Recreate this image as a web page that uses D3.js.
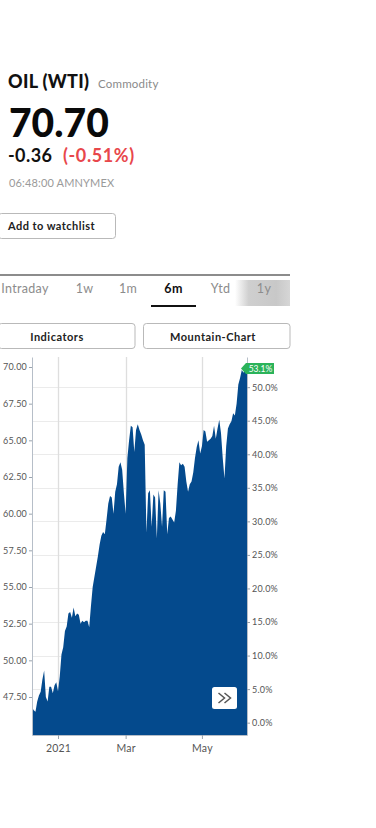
<!DOCTYPE html>
<html><head><meta charset="utf-8">
<script src="https://cdn.jsdelivr.net/npm/d3@7/dist/d3.min.js"></script>
<style>
body{margin:0;background:#fff}
svg{display:block}
text{font-family:Lato,"Open Sans",sans-serif}
</style>
</head><body><div id="c"></div>
<script>
// ---- data ----
const prices = [46.8,46.6,46.5,47.2,47.6,47.85,48.7,49.3,47.5,47.2,
  48.2,48.2,47.75,48.3,48.5,47.9,48.9,50.4,50.9,52.0,
  52.3,53.2,53.3,52.9,53.6,53.0,53.2,53.1,52.5,52.7,
  52.6,52.7,52.7,52.25,53.7,55.0,55.7,56.4,57.1,57.9,
  58.5,58.75,58.6,59.6,60.7,61.2,61.1,60.0,61.5,62.0,
  63.2,63.5,63.0,61.4,60.0,63.8,65.0,66.0,65.9,64.2,
  65.7,66.1,65.7,65.4,65.0,64.7,58.7,61.4,61.6,59.1,
  61.3,61.1,58.3,61.6,60.7,59.1,61.6,61.5,58.6,59.7,
  59.8,59.6,59.4,60.2,62.0,63.5,63.3,63.4,63.2,62.2,
  61.5,62.0,62.2,62.8,63.8,64.55,65.0,64.1,64.6,65.7,
  65.6,64.9,65.0,65.1,65.3,66.0,65.1,65.8,66.4,65.5,
  63.8,62.4,64.6,65.8,66.1,66.3,66.85,66.7,67.5,68.8,
  69.25,69.8,69.6,70.0,69.9];
const xTickIdx = [15, 54, 98];
const xTickLabels = ["2021", "Mar", "May"];
const priceTicks = [47.5, 50, 52.5, 55, 57.5, 60, 62.5, 65, 67.5, 70];
const pctTicks = [0, 5, 10, 15, 20, 25, 30, 35, 40, 45, 50];
const basePrice = 45.75;
const lastPctLabel = "53.1%";
const tabLabels = ["Intraday", "1w", "1m", "6m", "Ytd", "1y"];
const activeTab = "6m";
const title = "OIL (WTI)", subtitle = "Commodity";
const lastPrice = "70.70", change = "-0.36", changePct = "(-0.51%)";
const timeLine = "06:48:00 AMNYMEX";
const buttonLabels = ["Indicators", "Mountain-Chart"];

// ---- layout ----
const W = 376, H = 828;
const plot = {left: 32, right: 247, top: 357, bottom: 735};
const svg = d3.select("#c").append("svg").attr("width", W).attr("height", H);
svg.append("rect").attr("width", W).attr("height", H).attr("fill", "#fff");

// header
svg.append("text").attr("x", 8).attr("y", 88).attr("font-size", 18).attr("font-weight", 900).attr("letter-spacing", 0.3).attr("fill", "#111").text(title);
svg.append("text").attr("x", 98).attr("y", 88).attr("font-size", 11.5).attr("letter-spacing", 0.2).attr("fill", "#8a8a8a").text(subtitle);
svg.append("text").attr("x", 9).attr("y", 137).attr("font-size", 39).attr("font-weight", 900).attr("fill", "#0a0a0a").text(lastPrice);
svg.append("text").attr("x", 8).attr("y", 162).attr("font-size", 18).attr("font-weight", 700).attr("letter-spacing", 0.4).attr("fill", "#111").text(change);
svg.append("text").attr("x", 63).attr("y", 162).attr("font-size", 18).attr("font-weight", 700).attr("letter-spacing", 0.6).attr("fill", "#e8474b").text(changePct);
svg.append("text").attr("x", 9).attr("y", 187).attr("font-size", 11).attr("letter-spacing", 0.15).attr("fill", "#9a9a9a").text(timeLine);

// watchlist button
svg.append("rect").attr("x", -1.5).attr("y", 213.5).attr("width", 117).attr("height", 25).attr("rx", 3)
  .attr("fill", "#fff").attr("stroke", "#b9b9b9");
svg.append("text").attr("x", 8).attr("y", 230).attr("font-size", 11).attr("font-weight", 700).attr("letter-spacing", 0.45).attr("fill", "#222").text("Add to watchlist");

// tabs
const defs = svg.append("defs");
const g1 = defs.append("linearGradient").attr("id", "fade").attr("x1", 0).attr("x2", 1);
g1.append("stop").attr("offset", "0%").attr("stop-color", "#fff");
g1.append("stop").attr("offset", "25%").attr("stop-color", "#cfcfcf");
g1.append("stop").attr("offset", "75%").attr("stop-color", "#c8c8c8");
g1.append("stop").attr("offset", "100%").attr("stop-color", "#d6d6d6");
svg.append("rect").attr("x", 235).attr("y", 280).attr("width", 55).attr("height", 26).attr("fill", "url(#fade)");
svg.append("line").attr("x1", 0).attr("x2", 290).attr("y1", 275).attr("y2", 275).attr("stroke", "#666").attr("stroke-width", 1.5);
const tabCenters = [25, 84.5, 128, 173.5, 220.5, 264];
tabLabels.forEach((t, i) => {
  svg.append("text").attr("x", tabCenters[i]).attr("y", 293).attr("text-anchor", "middle")
    .attr("font-size", 12.5).attr("letter-spacing", 0.3).attr("font-weight", t === activeTab ? 700 : 400)
    .attr("fill", t === activeTab ? "#111" : "#8c8c8c").text(t);
});
svg.append("line").attr("x1", 151).attr("x2", 196).attr("y1", 306).attr("y2", 306).attr("stroke", "#111").attr("stroke-width", 2);

// buttons
const btns = [{x: -1.5, w: 136.5}, {x: 143.5, w: 146.5}];
buttonLabels.forEach((b, i) => {
  svg.append("rect").attr("x", btns[i].x).attr("y", 323.5).attr("width", btns[i].w).attr("height", 25).attr("rx", 3)
    .attr("fill", "#fff").attr("stroke", "#b9b9b9");
  svg.append("text").attr("x", i === 0 ? 57 : 213).attr("y", 340.5).attr("text-anchor", "middle")
    .attr("font-size", 11).attr("font-weight", 700).attr("letter-spacing", 0.5).attr("fill", "#222").text(b);
});

// scales
const x = d3.scaleLinear().domain([0, prices.length - 1]).range([plot.left, plot.right]);
const pxPerUnit = (697 - 367) / (70 - 47.5);
const yPrice = d3.scaleLinear()
  .domain([70 - (plot.bottom - 367) / pxPerUnit, 70 + (367 - plot.top) / pxPerUnit])
  .range([plot.bottom, plot.top]);
const yPct = d3.scaleLinear()
  .domain(yPrice.domain().map(p => (p / basePrice - 1) * 100))
  .range([plot.bottom, plot.top]);

// gridlines
const grid = svg.append("g");
grid.selectAll("line.h").data(pctTicks).join("line")
  .attr("x1", plot.left).attr("x2", plot.right)
  .attr("y1", d => Math.round(yPct(d)) + 0.5).attr("y2", d => Math.round(yPct(d)) + 0.5)
  .attr("stroke", "#ebebeb");
grid.selectAll("line.v").data(xTickIdx).join("line")
  .attr("x1", d => Math.round(x(d)) + 0.5).attr("x2", d => Math.round(x(d)) + 0.5)
  .attr("y1", plot.top).attr("y2", plot.bottom)
  .attr("stroke", "#dedede").attr("stroke-width", 1.3);

// area
const area = d3.area().x((d, i) => x(i)).y0(plot.bottom).y1(d => yPrice(d));
svg.append("path").datum(prices).attr("d", area).attr("fill", "#044a8d");

// axes
function styleAxis(g, size) {
  g.selectAll("text").attr("font-size", size).attr("fill", "#555").attr("font-family", "Lato, sans-serif").attr("letter-spacing", 0.2);
  g.selectAll("line").attr("stroke", "#9aa3ad");
  g.select(".domain").attr("stroke", "#b6bec8");
}
svg.append("g").attr("transform", `translate(${plot.left},0)`)
  .call(d3.axisLeft(yPrice).tickValues(priceTicks).tickFormat(d3.format(".2f")).tickSize(3).tickPadding(2).tickSizeOuter(0))
  .call(g => styleAxis(g, 9));
svg.append("g").attr("transform", `translate(${plot.right},0)`)
  .call(d3.axisRight(yPct).tickValues(pctTicks).tickFormat(d => d3.format(".1f")(d) + "%").tickSize(3).tickPadding(2).tickSizeOuter(0))
  .call(g => styleAxis(g, 9));
svg.append("g").attr("transform", `translate(0,${plot.bottom})`)
  .call(d3.axisBottom(x).tickValues(xTickIdx).tickFormat((d, i) => xTickLabels[i]).tickSize(4).tickPadding(6).tickSizeOuter(0))
  .call(g => styleAxis(g, 10.5));

// last value label
const lastY = yPrice(prices[prices.length - 1]);
const lbl = svg.append("g").attr("transform", `translate(${plot.right - 6},${lastY})`);
lbl.append("path").attr("d", "M0,0 L5,-5.5 L33,-5.5 L33,5.5 L5,5.5 Z").attr("fill", "#2bb35a");
lbl.append("text").attr("x", 19.5).attr("y", 3.2).attr("text-anchor", "middle").attr("font-size", 8.5)
  .attr("fill", "#fff").text(lastPctLabel);

// scroll button
svg.append("rect").attr("x", 212).attr("y", 687).attr("width", 25).attr("height", 22).attr("rx", 2.5).attr("fill", "#fff");
const chev = svg.append("g").attr("fill", "none").attr("stroke", "#555").attr("stroke-width", 1.5).attr("stroke-linejoin", "miter");
chev.append("path").attr("d", "M218.5,693 L224.5,698 L218.5,703");
chev.append("path").attr("d", "M224.5,693 L230.5,698 L224.5,703");
</script>
</body></html>
